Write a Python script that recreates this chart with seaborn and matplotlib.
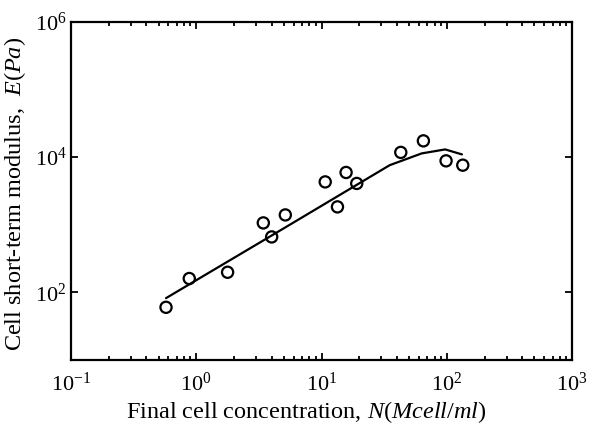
import seaborn as sns
import pandas as pd
import matplotlib.pyplot as plt
from matplotlib.ticker import LogLocator, NullLocator

# measured points
conc = [0.574, 0.88, 1.78, 3.43, 4.0, 5.14, 10.7, 13.4, 15.7, 19.1, 42.9, 65, 98.6, 134]
modulus = [60, 160, 198, 1064, 660, 1396, 4300, 1836, 5930, 4080, 11750, 17400, 8810, 7600]

# fitted curve
fit_conc = [0.574, 5, 35, 63, 97, 132]
fit_modulus = [82, 885, 7600, 11350, 13000, 10970]

sns.set_style("ticks")
plt.rcParams["font.family"] = ["Liberation Serif", "DejaVu Serif"]
plt.rcParams["mathtext.fontset"] = "custom"
plt.rcParams["mathtext.rm"] = "Liberation Serif"
plt.rcParams["mathtext.it"] = "Liberation Serif:italic"
plt.rcParams["text.color"] = "black"
plt.rcParams["axes.labelcolor"] = "black"

fig, ax = plt.subplots(figsize=(6.01, 4.30), dpi=100)
fig.subplots_adjust(left=0.118, right=0.952, top=0.949, bottom=0.163)

pts = pd.DataFrame({"N": conc, "E": modulus})
fit = pd.DataFrame({"N": fit_conc, "E": fit_modulus})

sns.lineplot(data=fit, x="N", y="E", color="black", linewidth=1.6, ax=ax)
sns.scatterplot(data=pts, x="N", y="E", marker="o", s=65, facecolor="none",
                edgecolor="black", linewidth=1.6, ax=ax, zorder=3)

ax.set_xscale("log")
ax.set_yscale("log")
ax.set_xlim(0.1, 1000)
ax.set_ylim(10, 1e6)
ax.set_xticks([0.1, 1, 10, 100, 1000])
ax.set_yticks([1e2, 1e4, 1e6])
ax.xaxis.set_minor_locator(LogLocator(base=10, subs=range(2, 10)))
ax.yaxis.set_minor_locator(NullLocator())

for s in ax.spines.values():
    s.set_visible(True)
    s.set_linewidth(1.6)
    s.set_edgecolor("black")
ax.tick_params(which="both", direction="in", top=True, right=True, width=1.3, colors="black")
ax.tick_params(which="major", length=5, labelsize=16)
ax.tick_params(which="minor", length=3)
ax.tick_params(axis="x", which="major", pad=9)
ax.tick_params(axis="y", which="major", pad=3)

ax.set_xlabel("Final cell concentration, $\\it{N}(\\it{Mcell/ml})$", fontsize=17.5)
ax.set_ylabel("Cell short-term modulus,  $\\it{E}(\\it{Pa})$", fontsize=17.5)
ax.xaxis.set_label_coords(0.47, -0.115)
ax.yaxis.set_label_coords(-0.085, 0.49)

plt.savefig("out.png")
